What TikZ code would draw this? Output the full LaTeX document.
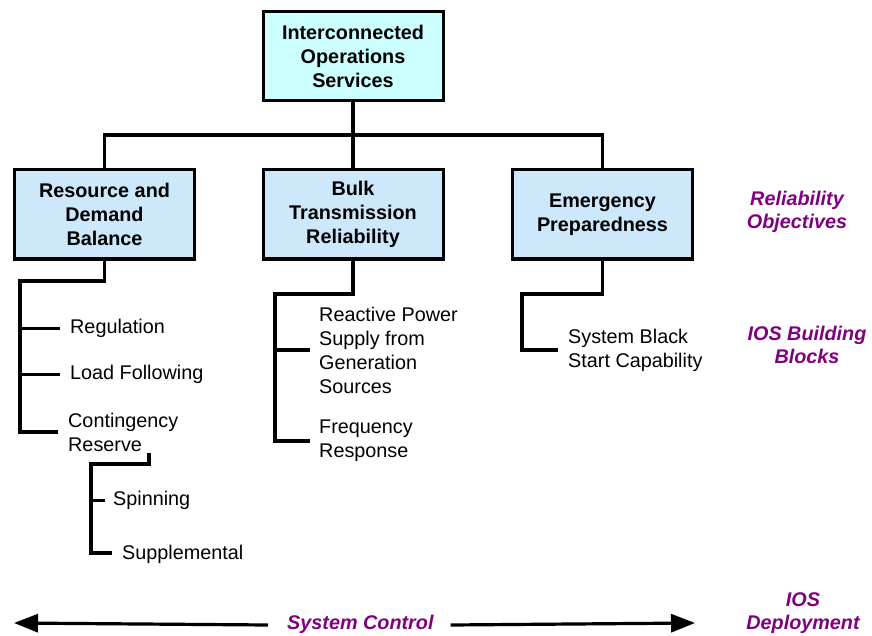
\documentclass[tikz,border=0pt]{standalone}
\usepackage{fontspec}
\setmainfont{Liberation Sans}
\usetikzlibrary{arrows.meta}
\definecolor{topfill}{HTML}{CCFFFF}
\definecolor{boxfill}{HTML}{CCE8FA}
\definecolor{ospurple}{HTML}{800080}
\begin{document}
\begin{tikzpicture}[x=1pt,y=-1pt,
  box/.style={draw, line width=3pt, fill=boxfill, font=\bfseries\fontsize{19.8}{24}\selectfont, align=center, minimum width=180pt, minimum height=89pt, inner sep=0pt},
  item/.style={font=\fontsize{19.8}{24}\selectfont, align=left, anchor=west, inner sep=0pt},
  lab/.style={font=\bfseries\itshape\fontsize{19.8}{23}\selectfont, text=ospurple, align=center, inner sep=0pt},
  tree/.style={line width=3.2pt},
  arr/.style={line width=3.2pt, -{Triangle[length=24pt,width=18pt]}}]
\useasboundingbox (0,0) rectangle (872,636);

% boxes
\node[box, fill=topfill] (ios) at (353,56) {Interconnected\\Operations\\Services};
\node[box] (rdb) at (104.5,214.5) {Resource and\\Demand\\Balance};
\node[box] (btr) at (353,214.5) {Bulk\\Transmission\\Reliability};
\node[box] (ep) at (602.5,214.5) {Emergency\\Preparedness};

% items
\node[item] (reg) at (70,328.5) {Regulation};
\node[item] (lf) at (70,374.5) {Load Following};
\node[item] (cres) at (68,432) {Contingency\\Reserve};
\node[item] (spin) at (113,500.5) {Spinning};
\node[item] (supp) at (122,554) {Supplemental};
\node[item] (rp) at (319,350) {Reactive Power\\Supply from\\Generation\\Sources};
\node[item] (freq) at (319,441) {Frequency\\Response};
\node[item] (sbs) at (568,350) {System Black\\Start Capability};

% labels
\node[lab] (relobj) at (797,212) {Reliability\\Objectives};
\node[lab] (iosbb) at (807,345) {IOS Building\\Blocks};
\node[lab] (iosdep) at (803,613) {IOS\\Deployment};
\node[lab, anchor=west] (sc) at (287,624) {System Control};

% top bus
\coordinate (bus) at (353,135);
\draw[tree] (ios.south) -- (btr.north);
\draw[tree] (rdb.north) |- (bus) -| (ep.north);

% resource tree
\coordinate (s1) at (20,281);
\draw[tree] (rdb.south) |- (s1) |- ([xshift=-10pt]cres.west);
\draw[tree] (s1 |- reg.west) -- ([xshift=-10pt]reg.west);
\draw[tree] (s1 |- lf.west) -- ([xshift=-10pt]lf.west);

% contingency sub-tree
\coordinate (s2top) at (149,453);
\coordinate (s2) at (91,464);
\draw[tree] (s2top) |- (s2) |- ([xshift=-10pt,yshift=1pt]supp.west);
\draw[tree] (s2 |- spin.west) -- ([xshift=-8pt]spin.west);

% bulk tree
\coordinate (s3) at (275,294);
\draw[tree] (btr.south) |- (s3) |- ([xshift=-9pt]freq.west);
\draw[tree] (s3 |- rp.west) -- ([xshift=-9pt]rp.west);

% emergency tree
\coordinate (s4) at (522,294);
\draw[tree] (ep.south) |- (s4) |- ([xshift=-10pt]sbs.west);

% system control arrows
\coordinate (la) at (14,623);
\coordinate (ra) at (695,623);
\draw[arr] ([xshift=-19pt,yshift=-1pt]sc.west) -- (la);
\draw[arr] ([xshift=17pt,yshift=-1pt]sc.east) -- (ra);
\end{tikzpicture}
\end{document}
